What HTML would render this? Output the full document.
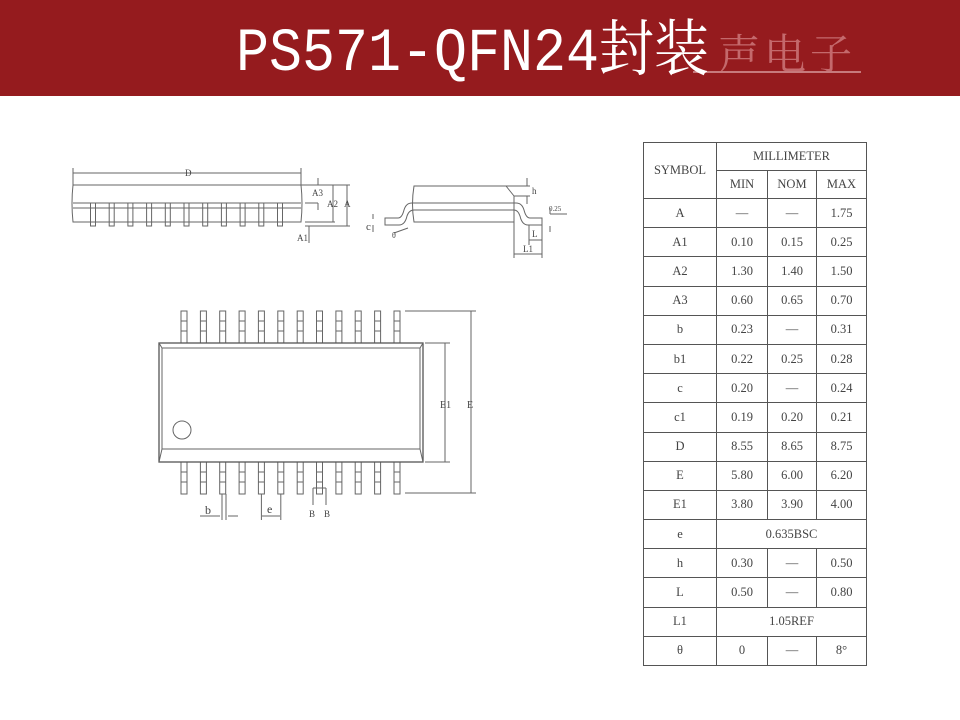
<!DOCTYPE html>
<html><head><meta charset="utf-8"><style>
html,body{margin:0;padding:0;width:960px;height:720px;overflow:hidden;background:#fff}
#hdr{position:absolute;left:0;top:0;width:960px;height:96px;background:#951b1e}
#title{position:absolute;left:236px;top:23px;font-family:"Liberation Mono","Noto Serif CJK SC",monospace;font-size:55px;line-height:55px;color:#fff;white-space:nowrap;transform:scale(1,1.12);transform-origin:left top}
#wm{position:absolute;left:718px;top:28px;font-family:"Noto Serif CJK SC",serif;font-size:42px;line-height:48px;color:#d98b8d;opacity:.7;letter-spacing:4px}
#wmline{position:absolute;left:693px;top:71px;width:168px;height:2px;background:#c77a7c}
table{position:absolute;left:643px;top:142px;border-collapse:collapse;font-family:"Liberation Serif",serif;font-size:12.5px;color:#444;text-align:center}
td{border:1.5px solid #555;padding:0}
svg{position:absolute;left:0;top:0}
</style></head><body>
<div id="hdr"></div>
<div id="wm">声电子</div><div id="wmline"></div>
<div id="title">PS571-QFN24封装</div>

<svg width="960" height="720" font-family="Liberation Serif,serif" fill="none" stroke="#666" stroke-width="1">
<defs>
<g id="tp"><rect x="-3" y="0" width="6" height="32"/><line x1="-3" y1="10" x2="3" y2="10"/><line x1="-3" y1="20" x2="3" y2="20"/></g>
<g id="sp"><rect x="-2.5" y="0" width="5" height="23"/></g>
</defs>
<line x1="73" y1="173" x2="301" y2="173"/><text x="185" y="176" fill="#444" stroke="none" font-size="9">D</text>
<line x1="73" y1="168" x2="73" y2="186"/><line x1="301" y1="168" x2="301" y2="186"/>
<path d="M73 185 H301 Q303 203 301 222 H73 Q71 203 73 185 Z"/>
<line x1="73" y1="203" x2="301" y2="203"/><line x1="73" y1="208" x2="301" y2="208"/>
<g>
<use href="#sp" x="93" y="203"/><use href="#sp" x="111.7" y="203"/><use href="#sp" x="130.4" y="203"/><use href="#sp" x="149.1" y="203"/><use href="#sp" x="167.8" y="203"/><use href="#sp" x="186.5" y="203"/><use href="#sp" x="205.2" y="203"/><use href="#sp" x="223.9" y="203"/><use href="#sp" x="242.6" y="203"/><use href="#sp" x="261.3" y="203"/><use href="#sp" x="280" y="203"/>
</g>
<line x1="301" y1="185" x2="350" y2="185"/><line x1="305" y1="226" x2="350" y2="226"/>
<line x1="305" y1="222" x2="335" y2="222"/><line x1="305" y1="203" x2="318" y2="203"/>
<line x1="318" y1="178" x2="318" y2="185"/><line x1="318" y1="203" x2="318" y2="210"/>
<line x1="333" y1="185" x2="333" y2="222"/><line x1="347" y1="185" x2="347" y2="226"/>
<line x1="309" y1="226" x2="309" y2="243"/>
<g fill="#444" stroke="none" font-size="9"><text x="312" y="196">A3</text><text x="327" y="207">A2</text><text x="344" y="207">A</text><text x="297" y="241">A1</text></g>
<path d="M414 186 H506 L514 196 V222 H414 Q411 204 414 186 Z"/>
<path d="M385 218 H398 Q402 218 404 210 Q406 203 412 203 H516 Q522 203 524 210 Q526 218 530 218 H542 V225 H528 Q522 225 520 216 Q518 210 514 210 H414 Q409 210 407 216 Q405 225 399 225 H385 Z"/>
<line x1="506" y1="186" x2="530" y2="186"/><line x1="514" y1="196" x2="530" y2="196"/>
<line x1="527" y1="178" x2="527" y2="186"/><line x1="527" y1="196" x2="527" y2="204"/>
<line x1="514" y1="222" x2="514" y2="258"/><line x1="542" y1="225" x2="542" y2="258"/><line x1="529" y1="225" x2="529" y2="245"/>
<line x1="529" y1="240" x2="542" y2="240"/><line x1="514" y1="254" x2="542" y2="254"/>
<line x1="550" y1="214" x2="567" y2="214"/><line x1="550" y1="208" x2="550" y2="214"/><line x1="550" y1="226" x2="550" y2="232"/>
<line x1="373" y1="214" x2="373" y2="219"/><line x1="373" y1="225" x2="373" y2="232"/>
<line x1="394" y1="233" x2="408" y2="228"/>
<g fill="#444" stroke="none" font-size="9"><text x="532" y="194">h</text><text x="549" y="211" font-size="7">0.25</text><text x="532" y="237">L</text><text x="523" y="252">L1</text><text x="366" y="230" font-size="11">c</text><text x="392" y="238" font-size="8">θ</text></g>
<g>
<use href="#tp" x="184" y="311"/><use href="#tp" x="203.4" y="311"/><use href="#tp" x="222.7" y="311"/><use href="#tp" x="242.1" y="311"/><use href="#tp" x="261.4" y="311"/><use href="#tp" x="280.8" y="311"/><use href="#tp" x="300.2" y="311"/><use href="#tp" x="319.5" y="311"/><use href="#tp" x="338.9" y="311"/><use href="#tp" x="358.2" y="311"/><use href="#tp" x="377.6" y="311"/><use href="#tp" x="397" y="311"/>
<use href="#tp" x="184" y="462"/><use href="#tp" x="203.4" y="462"/><use href="#tp" x="222.7" y="462"/><use href="#tp" x="242.1" y="462"/><use href="#tp" x="261.4" y="462"/><use href="#tp" x="280.8" y="462"/><use href="#tp" x="300.2" y="462"/><use href="#tp" x="319.5" y="462"/><use href="#tp" x="338.9" y="462"/><use href="#tp" x="358.2" y="462"/><use href="#tp" x="377.6" y="462"/><use href="#tp" x="397" y="462"/>
</g>
<rect x="159" y="343" width="264" height="119" fill="#fff" stroke="#555" stroke-width="1.3"/>
<path d="M159 343 L162 348 H420 L423 343 M162 348 V449 M420 348 V449 M159 462 L162 449 H420 L423 462"/>
<circle cx="182" cy="430" r="9"/>
<line x1="425" y1="343" x2="450" y2="343"/><line x1="425" y1="462" x2="450" y2="462"/>
<line x1="405" y1="311" x2="476" y2="311"/><line x1="405" y1="493" x2="476" y2="493"/>
<line x1="445" y1="343" x2="445" y2="462"/><line x1="471" y1="311" x2="471" y2="493"/>
<line x1="222" y1="494" x2="222" y2="520"/><line x1="226" y1="494" x2="226" y2="520"/>
<line x1="200" y1="516" x2="220" y2="516"/><line x1="228" y1="516" x2="238" y2="516"/>
<line x1="261.4" y1="494" x2="261.4" y2="520"/><line x1="280.8" y1="494" x2="280.8" y2="520"/><line x1="262" y1="516" x2="280" y2="516"/>
<path d="M313 488 H326 M313 488 V505 M326 488 V505"/>
<g fill="#444" stroke="none"><text x="440" y="408" font-size="10">E1</text><text x="467" y="408" font-size="10">E</text><text x="205" y="514" font-size="12">b</text><text x="267" y="513" font-size="12">e</text><text x="309" y="517" font-size="9">B</text><text x="324" y="517" font-size="9">B</text></g>
</svg>

<table>
<colgroup><col style="width:73px"><col style="width:51px"><col style="width:49px"><col style="width:50px"></colgroup>
<tr style="height:28px"><td rowspan="2">SYMBOL</td><td colspan="3">MILLIMETER</td></tr>
<tr style="height:28px"><td>MIN</td><td>NOM</td><td>MAX</td></tr>
<tr style="height:29.2px"><td>A</td><td>—</td><td>—</td><td>1.75</td></tr>
<tr style="height:29.2px"><td>A1</td><td>0.10</td><td>0.15</td><td>0.25</td></tr>
<tr style="height:29.2px"><td>A2</td><td>1.30</td><td>1.40</td><td>1.50</td></tr>
<tr style="height:29.2px"><td>A3</td><td>0.60</td><td>0.65</td><td>0.70</td></tr>
<tr style="height:29.2px"><td>b</td><td>0.23</td><td>—</td><td>0.31</td></tr>
<tr style="height:29.2px"><td>b1</td><td>0.22</td><td>0.25</td><td>0.28</td></tr>
<tr style="height:29.2px"><td>c</td><td>0.20</td><td>—</td><td>0.24</td></tr>
<tr style="height:29.2px"><td>c1</td><td>0.19</td><td>0.20</td><td>0.21</td></tr>
<tr style="height:29.2px"><td>D</td><td>8.55</td><td>8.65</td><td>8.75</td></tr>
<tr style="height:29.2px"><td>E</td><td>5.80</td><td>6.00</td><td>6.20</td></tr>
<tr style="height:29.2px"><td>E1</td><td>3.80</td><td>3.90</td><td>4.00</td></tr>
<tr style="height:29.2px"><td>e</td><td colspan="3">0.635BSC</td></tr>
<tr style="height:29.2px"><td>h</td><td>0.30</td><td>—</td><td>0.50</td></tr>
<tr style="height:29.2px"><td>L</td><td>0.50</td><td>—</td><td>0.80</td></tr>
<tr style="height:29.2px"><td>L1</td><td colspan="3">1.05REF</td></tr>
<tr style="height:29.2px"><td>θ</td><td>0</td><td>—</td><td>8°</td></tr>
</table>
</body></html>
